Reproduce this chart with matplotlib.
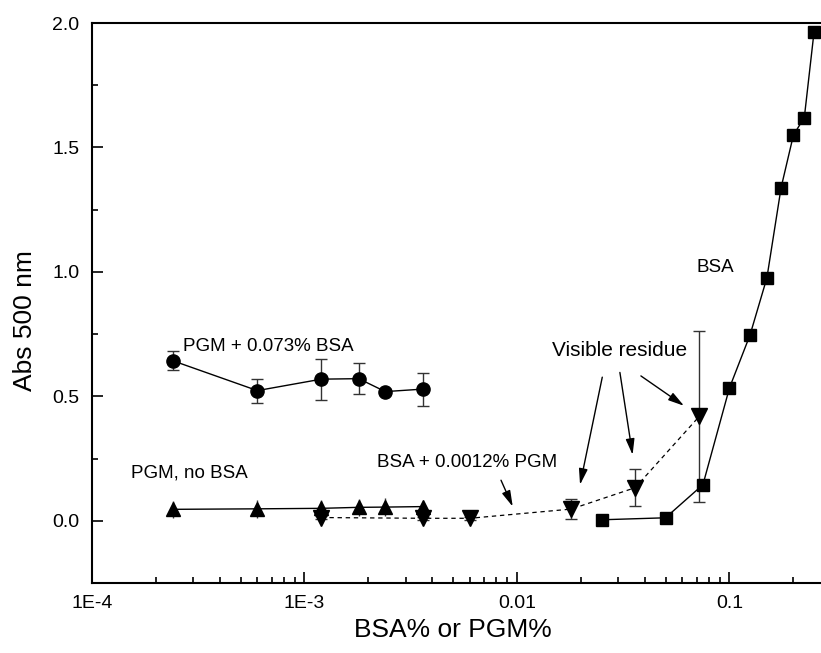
import numpy as np
import matplotlib
matplotlib.use("Agg")
import matplotlib.pyplot as plt
from matplotlib.ticker import FixedLocator, FixedFormatter, NullFormatter, MultipleLocator

plt.rcParams['font.family'] = ['Liberation Sans', 'DejaVu Sans']

# ---- data ----
bsa_x = [0.025, 0.05, 0.075, 0.1, 0.125, 0.15, 0.175, 0.2, 0.225, 0.25]
bsa_y = [0.004, 0.012, 0.145, 0.534, 0.747, 0.976, 1.339, 1.55, 1.62, 1.964]

pgm_bsa_x = [2.4e-4, 6e-4, 1.2e-3, 1.8e-3, 2.4e-3, 3.6e-3]
pgm_bsa_y = [0.643, 0.523, 0.569, 0.571, 0.519, 0.529]
pgm_bsa_err = [0.038, 0.048, 0.083, 0.063, 0.01, 0.066]

pgm_x = [2.4e-4, 6e-4, 1.2e-3, 1.8e-3, 2.4e-3, 3.6e-3]
pgm_y = [0.046, 0.048, 0.05, 0.054, 0.055, 0.057]
pgm_err = [0.035, 0.035, 0.035, 0.035, 0.035, 0.01]

bsa_pgm_x = [1.2e-3, 3.6e-3, 6e-3, 0.018, 0.036, 0.072]
bsa_pgm_y = [0.013, 0.01, 0.01, 0.047, 0.133, 0.419]
bsa_pgm_err = [0.005, 0.005, 0.005, 0.04, 0.075, 0.345]

xtick_vals = [1e-4, 1e-3, 1e-2, 1e-1]
xtick_labels = ["1E-4", "1E-3", "0.01", "0.1"]
ytick_vals = [0.0, 0.5, 1.0, 1.5, 2.0]
ytick_labels = ["0.0", "0.5", "1.0", "1.5", "2.0"]

# ---- figure ----
fig = plt.figure(figsize=(8.21, 6.53), dpi=100)
ax = fig.add_axes([92/821, 1 - 583/653, 731.5/821, 560/653])

ebc = '#333333'
ax.errorbar(pgm_bsa_x, pgm_bsa_y, yerr=pgm_bsa_err, fmt='-o', color='black', lw=1,
            ms=9.5, ecolor=ebc, elinewidth=1, capsize=4, capthick=1, zorder=3)
ax.errorbar(pgm_x, pgm_y, yerr=pgm_err, fmt='-^', color='black', lw=1,
            ms=10.5, ecolor=ebc, elinewidth=1, capsize=0, zorder=3)
ax.errorbar(bsa_pgm_x, bsa_pgm_y, yerr=bsa_pgm_err, fmt='v', color='black',
            ms=11, ecolor=ebc, elinewidth=1, capsize=4, capthick=1, zorder=3)
ax.plot(bsa_pgm_x, bsa_pgm_y, ls=(0, (3.5, 3)), color='black', lw=0.9, zorder=2)
ax.plot(bsa_x, bsa_y, '-s', color='black', lw=1, ms=8.5, zorder=3)

ax.set_xscale('log')
ax.set_xlim(1e-4, 0.277)
ax.set_ylim(-0.25, 2.0)

ax.xaxis.set_major_locator(FixedLocator(xtick_vals))
ax.xaxis.set_major_formatter(FixedFormatter(xtick_labels))
minors = [m * 10.0**e for e in range(-4, 0) for m in range(2, 10)]
ax.xaxis.set_minor_locator(FixedLocator(minors))
ax.xaxis.set_minor_formatter(NullFormatter())
ax.yaxis.set_major_locator(FixedLocator(ytick_vals))
ax.yaxis.set_major_formatter(FixedFormatter(ytick_labels))
ax.yaxis.set_minor_locator(MultipleLocator(0.25))

ax.tick_params(which='both', direction='in', top=False, right=False, width=1.2)
ax.tick_params(which='major', length=8, labelsize=14, pad=9)
ax.tick_params(which='minor', length=4.5)
for s in ax.spines.values():
    s.set_linewidth(1.5)
ax.spines['right'].set_visible(False)

ax.set_xlabel("BSA% or PGM%", fontsize=19)
ax.xaxis.set_label_coords(0.494, -0.062)
ax.set_ylabel("Abs 500 nm", fontsize=19, va='center')
ax.yaxis.set_label_coords(-0.0916, 0.468)

# ---- annotations ----
ax.text(0.0855, 1.016, "BSA", fontsize=13.5, ha='center', va='center')
ax.text(6.79e-4, 0.70, "PGM + 0.073% BSA", fontsize=13.5, ha='center', va='center')
ax.text(2.88e-4, 0.19, "PGM, no BSA", fontsize=13.5, ha='center', va='center')
ax.text(0.00585, 0.233, "BSA + 0.0012% PGM", fontsize=13.5, ha='center', va='center')
ax.text(0.0305, 0.684, "Visible residue", fontsize=15, ha='center', va='center')

aprops = dict(arrowstyle='-|>,head_length=0.8,head_width=0.22', color='black',
              lw=1, shrinkA=0, shrinkB=0, mutation_scale=12)
arrows = [((0.0252, 0.577), (0.0198, 0.145)),
          ((0.0305, 0.596), (0.0350, 0.265)),
          ((0.0383, 0.582), (0.0611, 0.462)),
          ((0.00841, 0.163), (0.00955, 0.057))]
for (x0, y0), (x1, y1) in arrows:
    ax.annotate("", xy=(x1, y1), xytext=(x0, y0), arrowprops=aprops)

fig.savefig("out.png", dpi=100)
